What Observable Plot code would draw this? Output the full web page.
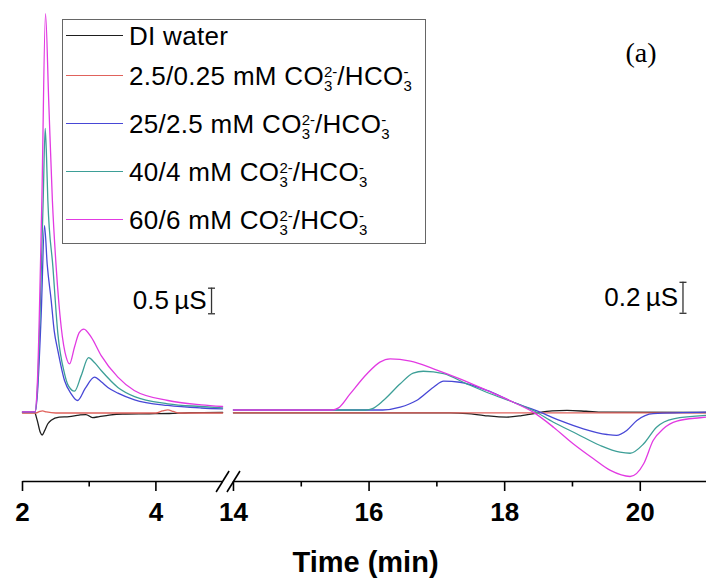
<!DOCTYPE html>
<html><head><meta charset="utf-8">
<script src="https://cdn.jsdelivr.net/npm/d3@7"></script>
<script src="https://cdn.jsdelivr.net/npm/@observablehq/plot@0.6"></script>
<style>
body{margin:0;background:#fff;}
#wrap{position:relative;width:706px;height:583px;font-family:"Liberation Sans",Arial,sans-serif;}
#legend{position:absolute;left:62px;top:19px;width:364px;height:225px;border:1.5px solid #666;box-sizing:border-box;background:#fff;}
.sample{position:absolute;left:3px;width:57px;height:0;border-top:1.6px solid;}
.lab{position:absolute;left:66px;font-size:26px;line-height:26px;white-space:nowrap;color:#000;letter-spacing:0.3px;}
.st{display:inline-block;font-size:15px;line-height:14px;vertical-align:-6px;text-align:left;letter-spacing:0;}
</style></head><body><div id="wrap"></div>
<script>
// ---- series ----
const seriesNames = ["DI water", "2.5/0.25 mM", "25/2.5 mM", "40/4 mM", "60/6 mM"];
const seriesColors = ["#1e1e1e", "#e0625c", "#4747d6", "#3d9f97", "#e23ae2"];
const hasCarbonate = [false, true, true, true, true];

// left segment (time 2-5 min), values in µS relative to baseline
const diLeft = [[2.00,0],[2.18,0],[2.22,-0.15],[2.265,-0.38],[2.295,-0.44],[2.33,-0.36],[2.38,-0.22],[2.43,-0.15],[2.55,-0.09],[2.70,-0.08],[2.85,-0.05],[2.95,-0.04],[3.05,-0.10],[3.15,-0.08],[3.30,-0.05],[3.50,-0.03],[3.90,-0.025],[4.20,-0.02],[4.50,-0.005],[5.00,0]];
const redLeft = [[2.00,-0.01],[2.20,-0.01],[2.26,0.02],[2.30,0.03],[2.36,0.01],[2.50,-0.01],[4.00,-0.01],[4.10,0.03],[4.18,0.05],[4.26,0.02],[4.35,-0.01],[5.00,-0.01]];
const blueLeft = [[2.00,0.01],[2.19,0.01],[2.22,0.3],[2.28,1.9],[2.33,3.65],[2.37,2.9],[2.43,2.19],[2.475,1.6],[2.53,1.21],[2.63,0.625],[2.73,0.365],[2.825,0.234],[2.94,0.47],[3.08,0.69],[3.18,0.60],[3.28,0.49],[3.43,0.377],[3.68,0.248],[4.18,0.137],[4.68,0.088],[5.00,0.072]];
const tealLeft = [[2.00,0.01],[2.19,0.01],[2.22,0.4],[2.31,4.14],[2.34,5.55],[2.36,5.0],[2.38,4.14],[2.456,2.84],[2.53,1.54],[2.63,0.76],[2.685,0.53],[2.78,0.416],[2.88,0.72],[2.99,1.07],[3.075,0.98],[3.18,0.82],[3.43,0.49],[3.68,0.31],[4.18,0.17],[4.68,0.117],[5.00,0.092]];
const pinkLeft = [[2.00,0.01],[2.19,0.01],[2.22,0.5],[2.29,4.14],[2.345,7.79],[2.393,6.09],[2.448,4.14],[2.505,2.84],[2.58,1.67],[2.655,1.08],[2.705,0.95],[2.78,1.28],[2.85,1.56],[2.92,1.63],[3.03,1.47],[3.18,1.11],[3.43,0.69],[3.675,0.43],[4.18,0.234],[4.68,0.15],[5.00,0.117]];

// right segment (time 14-21 min), values in µS relative to baseline
const diRight = [[14.0,-0.002],[17.2,-0.003],[17.45,-0.008],[17.7,-0.02],[18.03,-0.03],[18.25,-0.02],[18.45,-0.005],[18.7,0.01],[18.92,0.013],[19.2,0.008],[19.45,0.002],[20.97,0]];
const redRight = [[14.0,-0.003],[17.0,-0.003],[20.97,-0.003]];
const blueRight = [[14.0,0.016],[16.2,0.016],[16.46,0.034],[16.70,0.077],[16.95,0.163],[17.10,0.202],[17.34,0.195],[17.74,0.142],[18.13,0.066],[18.52,0.002],[18.82,-0.052],[19.16,-0.105],[19.51,-0.142],[19.65,-0.148],[19.80,-0.116],[19.95,-0.052],[20.19,-0.008],[20.97,0.002]];
const tealRight = [[14.0,0.016],[15.95,0.016],[16.05,0.025],[16.21,0.077],[16.46,0.185],[16.65,0.254],[16.80,0.266],[17.10,0.25],[17.44,0.185],[17.79,0.121],[18.13,0.066],[18.42,0.013],[18.72,-0.063],[19.06,-0.137],[19.41,-0.213],[19.70,-0.256],[19.85,-0.263],[20.05,-0.202],[20.24,-0.095],[20.49,-0.041],[20.97,-0.019]];
const pinkRight = [[14.0,0.016],[15.45,0.016],[15.55,0.03],[15.72,0.12],[15.97,0.25],[16.16,0.325],[16.31,0.346],[16.61,0.331],[16.95,0.282],[17.34,0.217],[17.74,0.142],[18.13,0.066],[18.42,0.002],[18.72,-0.095],[19.01,-0.202],[19.31,-0.299],[19.56,-0.374],[19.85,-0.413],[20.05,-0.331],[20.19,-0.181],[20.34,-0.105],[20.54,-0.056],[20.88,-0.034],[20.97,-0.030]];

// axis ticks
const majorTicks = [2, 4, 14, 16, 18, 20];
const minorTicks = [3, 15, 17, 19];

// scale bars (µS)
const barLeftSize = 0.5, barRightSize = 0.2;
const barLabels = ["0.5\u2009µS", "0.2\u2009µS"];

// ---- layout helpers ----
const W = 706, H = 583;
const leftEnd = 5.0, rightStart = 14.0;
const rightStartPos = 5.163, rightStretch = 1.0165;
const u = t => t <= leftEnd ? t : rightStartPos + (t - rightStart) * rightStretch;
const rightGain = 3.027;            // right panel vertical magnification
const xDomain = [2, 12.255];
const yDomain = [-1.348, 8.047];
const yAxis = yDomain[0];
const pxX = 684 / (xDomain[1] - xDomain[0]);
const pxY = 481 / (yDomain[1] - yDomain[0]);

const segs = [[diLeft, diRight], [redLeft, redRight], [blueLeft, blueRight], [tealLeft, tealRight], [pinkLeft, pinkRight]];
const rows = [];
segs.forEach(([L, R], i) => {
  L.forEach(([t, v]) => rows.push({series: seriesNames[i], key: i + "L", u: u(t), y: v}));
});
segs.forEach(([L, R], i) => {
  R.forEach(([t, v]) => rows.push({series: seriesNames[i], key: i + "R", u: u(t), y: v * rightGain}));
});

const bars = [
  {x: u(4.834), y1: 1.928, y2: 1.928 + barLeftSize, label: barLabels[0]},
  {x: u(20.63), y1: 0.64 * rightGain, y2: (0.64 + barRightSize) * rightGain, label: barLabels[1]}
];
const barCaps = bars.flatMap(b => [{x: b.x, y: b.y1}, {x: b.x, y: b.y2}]);
const axisSegs = [{x1: xDomain[0], x2: u(leftEnd)}, {x1: u(rightStart), x2: xDomain[1]}];
const breaks = [u(leftEnd), u(rightStart)];

const chart = Plot.plot({
  width: W, height: H,
  marginLeft: 22, marginRight: 0, marginTop: 0, marginBottom: 102,
  x: {domain: xDomain, axis: null},
  y: {domain: yDomain, axis: null},
  color: {domain: seriesNames, range: seriesColors},
  style: {fontFamily: "'Liberation Sans', Arial, sans-serif", background: "#fff", overflow: "visible"},
  marks: [
    Plot.line(rows, {x: "u", y: "y", z: "key", stroke: "series", strokeWidth: 1.3, curve: "monotone-x"}),
    // axis line with break
    Plot.link(axisSegs, {x1: "x1", x2: "x2", y1: yAxis, y2: yAxis, stroke: "#000", strokeWidth: 1.6}),
    Plot.link(breaks, {x1: d => d - 6.5 / pxX, x2: d => d + 6.5 / pxX, y1: yAxis - 10.5 / pxY, y2: yAxis + 10.5 / pxY, stroke: "#000", strokeWidth: 1.6}),
    Plot.ruleX(majorTicks, {x: u, y1: yAxis, y2: yAxis - 10 / pxY, stroke: "#000", strokeWidth: 1.6}),
    Plot.ruleX(minorTicks, {x: u, y1: yAxis, y2: yAxis - 5.5 / pxY, stroke: "#000", strokeWidth: 1.6}),
    Plot.text(majorTicks, {x: u, y: yAxis, dy: 31.5, text: d => String(d), fontSize: 26, fontWeight: "bold", fill: "#000"}),
    Plot.text(["Time (min)"], {frameAnchor: "top-left", lineAnchor: "middle", dx: 343, dy: 562, text: d => d, fontSize: 29, fontWeight: "bold", textAnchor: "middle", fill: "#000"}),
    Plot.text(["(a)"], {frameAnchor: "top-left", lineAnchor: "middle", dx: 603, dy: 53, text: d => d, fontSize: 28, fontFamily: "'Liberation Serif', 'Times New Roman', serif", textAnchor: "start", fill: "#000"}),
    // scale bars
    Plot.ruleX(bars, {x: "x", y1: "y1", y2: "y2", stroke: "#333", strokeWidth: 1.3}),
    Plot.link(barCaps, {x1: d => d.x - 3.5 / pxX, x2: d => d.x + 3.5 / pxX, y1: "y", y2: "y", stroke: "#333", strokeWidth: 1.3}),
    Plot.text(bars, {x: "x", y: d => (d.y1 + d.y2) / 2, text: "label", dx: -5, textAnchor: "end", fontSize: 26, fill: "#000"})
  ]
});

const wrap = document.getElementById("wrap");
wrap.appendChild(chart);

// legend (HTML, for stacked sub/superscripts)
const sampleY = [16, 55.5, 103.5, 152, 200];
const legend = document.createElement("div");
legend.id = "legend";
const stack = (sup, sub) => `<span class="st">${sup}<br>${sub}</span>`;
seriesNames.forEach((name, i) => {
  const s = document.createElement("div");
  s.className = "sample";
  s.style.top = (sampleY[i] - 0.8) + "px";
  s.style.borderTopColor = seriesColors[i];
  legend.appendChild(s);
  const l = document.createElement("div");
  l.className = "lab";
  l.style.top = (sampleY[i] - 12.7) + "px";
  l.innerHTML = hasCarbonate[i] ? `${name} CO${stack("2-", "3")}/HCO${stack("-", "3")}` : name;
  legend.appendChild(l);
});
wrap.appendChild(legend);
</script></body></html>
